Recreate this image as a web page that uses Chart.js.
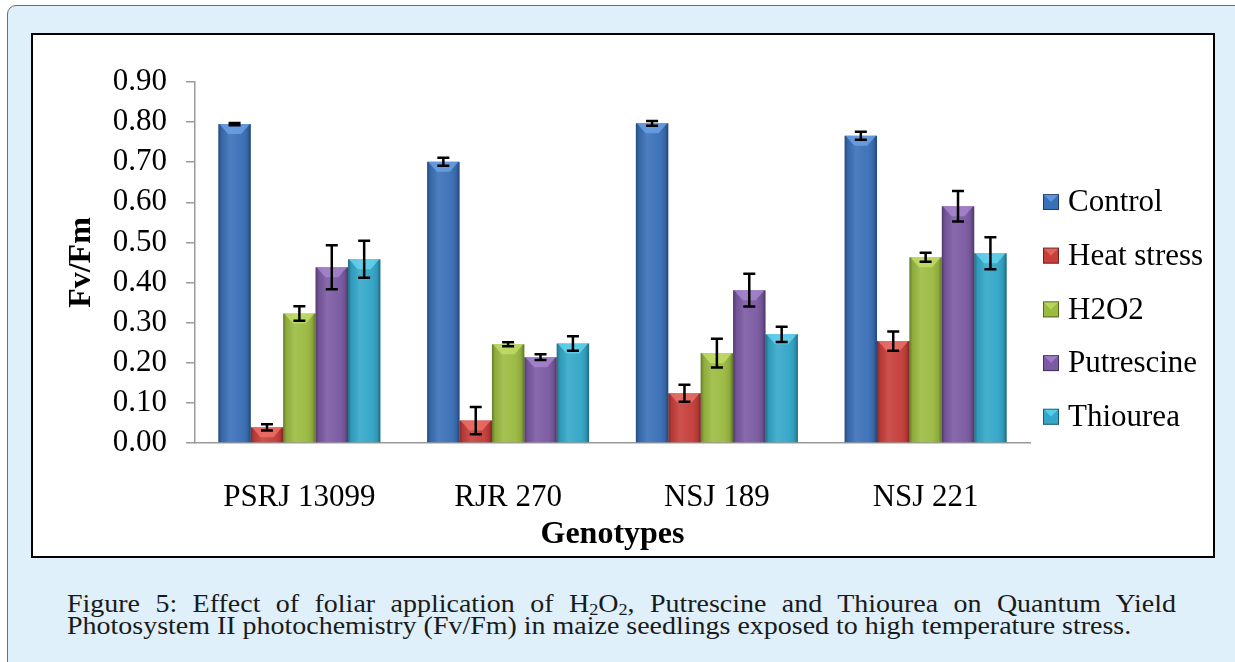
<!DOCTYPE html>
<html><head><meta charset="utf-8">
<script src="https://cdn.jsdelivr.net/npm/chart.js@4.4.0/dist/chart.umd.min.js"></script>
<style>
html,body{margin:0;padding:0;background:#fff;width:1235px;height:662px;overflow:hidden;}
#panel{position:absolute;left:7px;top:5px;width:1260px;height:700px;background:#dff0fb;border:1.5px solid #6e6e6e;border-radius:9px;box-sizing:border-box;}
#box{position:absolute;left:31px;top:33px;width:1184px;height:525px;background:#fff;border:2px solid #000;box-sizing:border-box;}
#wrap{position:absolute;left:0;top:0;width:1180px;height:521px;}
.cap{position:absolute;left:67px;font-family:"Liberation Serif",serif;color:#1a1a1a;white-space:nowrap;line-height:1;transform-origin:0 0;}
#cap1{width:1109px;text-align:justify;text-align-last:justify;white-space:normal;}
#cap1 sub{font-size:0.65em;line-height:0;vertical-align:-0.15em;}
</style></head>
<body>
<div id="panel"></div>
<div id="box"><div id="wrap"><canvas id="c" width="1180" height="521"></canvas></div></div>
<div class="cap" id="cap1">Figure 5: Effect of foliar application of H<sub>2</sub>O<sub>2</sub>, Putrescine and Thiourea on Quantum Yield</div>
<div class="cap" id="cap2"><span id="cap2s">Photosystem II photochemistry (Fv/Fm) in maize seedlings exposed to high temperature stress.</span></div>
<script>
const categories = ['PSRJ 13099', 'RJR 270', 'NSJ 189', 'NSJ 221'];
const seriesNames = ['Control', 'Heat stress', 'H2O2', 'Putrescine', 'Thiourea'];
const control    = [0.795, 0.701, 0.797, 0.766];
const heatStress = [0.039, 0.056, 0.124, 0.254];
const h2o2       = [0.323, 0.246, 0.224, 0.463];
const putrescine = [0.438, 0.214, 0.381, 0.590];
const thiourea   = [0.458, 0.248, 0.271, 0.473];
const controlErr    = [0.003, 0.010, 0.006, 0.010];
const heatStressErr = [0.008, 0.034, 0.021, 0.024];
const h2o2Err       = [0.018, 0.005, 0.036, 0.011];
const putrescineErr = [0.055, 0.007, 0.041, 0.038];
const thioureaErr   = [0.046, 0.018, 0.019, 0.040];
const yTickLabels = ['0.00','0.10','0.20','0.30','0.40','0.50','0.60','0.70','0.80','0.90'];
const colors = ['#3a70b8', '#c73e3a', '#9bbb41', '#7b5aa3', '#33a7c9'];
const lightColors = ['#6fa6ea', '#f0746c', '#c6e06a', '#ab8ad2', '#6ad8f2'];

const values = [control, heatStress, h2o2, putrescine, thiourea];
const errors = [controlErr, heatStressErr, h2o2Err, putrescineErr, thioureaErr];

const serif = '"Liberation Serif", "Times New Roman", serif';

const barShade = {
  id: 'barShade',
  afterDatasetsDraw(chart) {
    const ctx = chart.ctx;
    chart.data.datasets.forEach((ds, i) => {
      const meta = chart.getDatasetMeta(i);
      meta.data.forEach(bar => {
        const l = bar.x - bar.width / 2, r = bar.x + bar.width / 2;
        const t = bar.y, b = bar.base;
        if (b - t < 1) return;
        ctx.save();
        const g = ctx.createLinearGradient(l, 0, r, 0);
        g.addColorStop(0, 'rgba(0,0,0,0.35)');
        g.addColorStop(0.1, 'rgba(0,0,0,0.08)');
        g.addColorStop(0.35, 'rgba(255,255,255,0.10)');
        g.addColorStop(0.65, 'rgba(255,255,255,0.04)');
        g.addColorStop(0.9, 'rgba(0,0,0,0.10)');
        g.addColorStop(1, 'rgba(0,0,0,0.38)');
        ctx.fillStyle = g;
        ctx.fillRect(l, t, r - l, b - t);
        const h = Math.min(10, (b - t));
        ctx.beginPath();
        ctx.moveTo(l + 1, t);
        ctx.lineTo(r - 1, t);
        ctx.lineTo(r - (r - l) * 0.3, t + h);
        ctx.lineTo(l + (r - l) * 0.3, t + h);
        ctx.closePath();
        ctx.fillStyle = lightColors[i];
        ctx.globalAlpha = 0.75;
        ctx.fill();
        ctx.restore();
      });
    });
  }
};

const errorBars = {
  id: 'errorBars',
  afterDatasetsDraw(chart) {
    const ctx = chart.ctx;
    const ys = chart.scales.y;
    ctx.save();
    ctx.strokeStyle = '#000';
    ctx.lineWidth = 2.5;
    chart.data.datasets.forEach((ds, i) => {
      const meta = chart.getDatasetMeta(i);
      meta.data.forEach((bar, j) => {
        const v = ds.data[j], e = errors[i][j];
        const y1 = ys.getPixelForValue(v + e), y2 = ys.getPixelForValue(v - e);
        const x = bar.x, cw = 6;
        ctx.beginPath();
        ctx.moveTo(x, y1); ctx.lineTo(x, y2);
        ctx.moveTo(x - cw, y1); ctx.lineTo(x + cw, y1);
        ctx.moveTo(x - cw, y2); ctx.lineTo(x + cw, y2);
        ctx.stroke();
      });
    });
    ctx.restore();
  }
};

const sideLegend = {
  id: 'sideLegend',
  afterDraw(chart) {
    const ctx = chart.ctx;
    const a = chart.chartArea;
    const x0 = a.right + 13;
    const y0 = a.top + 120;
    const step = 53.7;
    ctx.save();
    ctx.font = '31px ' + serif;
    ctx.textBaseline = 'middle';
    ctx.textAlign = 'left';
    seriesNames.forEach((name, i) => {
      const cy = y0 + i * step;
      const s = 16;
      ctx.fillStyle = colors[i];
      ctx.fillRect(x0, cy - s / 2, s, s);
      ctx.fillStyle = lightColors[i];
      ctx.globalAlpha = 0.7;
      ctx.beginPath();
      ctx.moveTo(x0, cy - s / 2); ctx.lineTo(x0 + s, cy - s / 2); ctx.lineTo(x0 + s / 2, cy); ctx.closePath();
      ctx.fill();
      ctx.globalAlpha = 1;
      ctx.strokeStyle = 'rgba(0,0,0,0.45)';
      ctx.lineWidth = 1;
      ctx.strokeRect(x0 + 0.5, cy - s / 2 + 0.5, s - 1, s - 1);
      ctx.fillStyle = '#000';
      ctx.fillText(name, x0 + 25, cy + 1);
    });
    ctx.restore();
  }
};

new Chart(document.getElementById('c'), {
  type: 'bar',
  data: {
    labels: categories,
    datasets: seriesNames.map((n, i) => ({
      label: n,
      data: values[i],
      backgroundColor: colors[i],
      borderWidth: 0,
      categoryPercentage: 0.776,
      barPercentage: 1.0
    }))
  },
  options: {
    responsive: false,
    animation: false,
    layout: { padding: { left: 0, right: 183, top: 47, bottom: 0 } },
    plugins: { legend: { display: false }, tooltip: { enabled: false } },
    scales: {
      x: {
        grid: { display: false },
        border: { display: true, color: '#9a9a9a', width: 1.5 },
        ticks: { color: '#000', font: { family: serif, size: 31 }, padding: 28, autoSkip: false, maxRotation: 0 },
        title: { display: true, text: 'Genotypes', color: '#000', font: { family: serif, size: 32, weight: 'bold' }, padding: { top: 0, bottom: 2 } },
        afterFit(s) { s.height = 113; }
      },
      y: {
        min: 0, max: 0.9,
        ticks: { stepSize: 0.1, autoSkip: false, color: '#000', font: { family: serif, size: 31 }, padding: 19,
          callback: (v, idx) => yTickLabels[idx] },
        grid: { display: true, drawOnChartArea: false, drawTicks: true, tickLength: 9, color: '#9a9a9a', lineWidth: 1.5 },
        border: { display: true, color: '#9a9a9a', width: 1.5 },
        title: { display: true, text: 'Fv/Fm', color: '#000', font: { family: serif, size: 32, weight: 'bold' }, padding: { top: 30, bottom: 0 } },
        afterFit(s) { s.width = 162; }
      }
    }
  },
  plugins: [barShade, errorBars, sideLegend]
});

// caption sizing
(function () {
  const span = document.getElementById('cap2s');
  const c1 = document.getElementById('cap1'), c2 = document.getElementById('cap2');
  let fs = 24;
  c2.style.fontSize = fs + 'px';
  const w = span.getBoundingClientRect().width;
  fs = fs * 1065 / w;
  const sy = 17.2 / (0.662 * fs);
  [c1, c2].forEach(c => { c.style.fontSize = fs + 'px'; c.style.transform = 'scaleY(' + sy + ')'; });
  c1.style.top = (612.7 - 0.8375 * fs * sy) + 'px';
  c2.style.top = (635 - 0.8375 * fs * sy) + 'px';
})();
</script>
</body></html>
